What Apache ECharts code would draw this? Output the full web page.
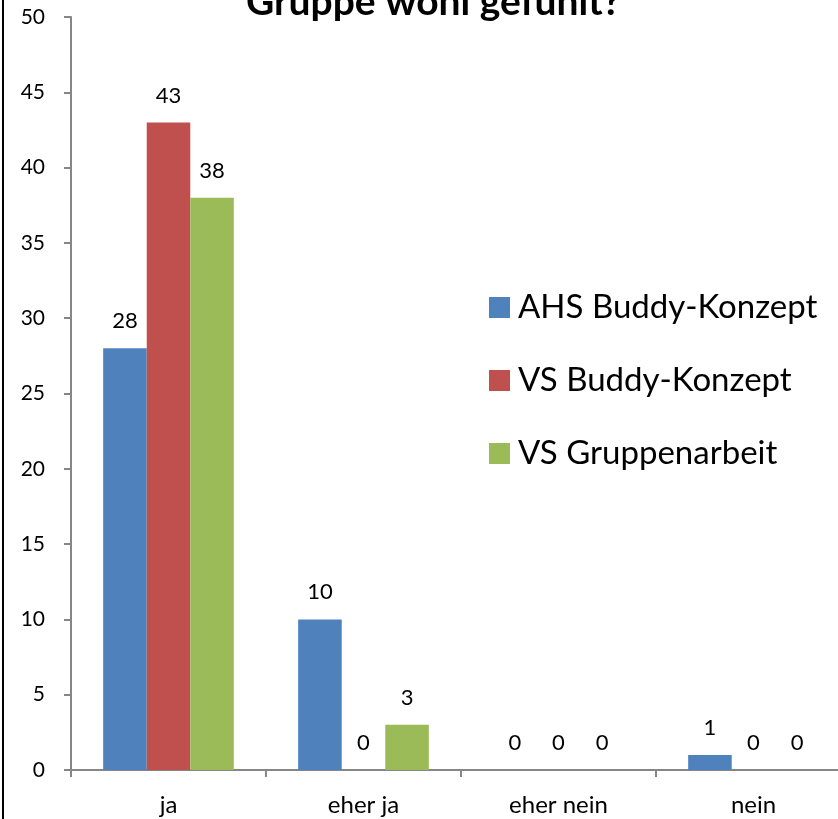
<!DOCTYPE html>
<html>
<head>
<meta charset="utf-8">
<script src="https://cdn.jsdelivr.net/npm/echarts@6/dist/echarts.min.js"></script>
<style>html,body{margin:0;padding:0;background:#fff}#c{width:838px;height:819px}</style>
</head>
<body>
<div id="c"></div>
<script>
const categories = ['ja', 'eher ja', 'eher nein', 'nein'];
const seriesNames = ['AHS Buddy-Konzept', 'VS Buddy-Konzept', 'VS Gruppenarbeit'];
const ahsBuddy = [28, 10, 0, 1];
const vsBuddy = [43, 0, 0, 0];
const vsGruppe = [38, 3, 0, 0];
const yTicks = {min: 0, max: 50, interval: 5};
const titleText = 'Gruppe wohl gefühlt?';

const colors = ['#4F81BD', '#C0504D', '#9BBB59'];
const font = 'Lato, "Open Sans", sans-serif';
const chart = echarts.init(document.getElementById('c'), null, {renderer: 'canvas'});
const mk = (name, data, i) => ({
  name, type: 'bar', data,
  barGap: '0%', barCategoryGap: '33%',
  itemStyle: {color: colors[i]},
  label: {show: true, position: 'top', distance: 16, color: '#000', fontSize: 22, fontFamily: font}
});
chart.setOption({
  animation: false,
  title: {text: titleText, left: 241, top: -22,
    textStyle: {fontSize: 39, fontWeight: 'bold', color: '#000', fontFamily: font}},
  graphic: [{type: 'line', shape: {x1: 3, y1: 0, x2: 3, y2: 819}, style: {stroke: '#000', lineWidth: 2}}],
  legend: {orient: 'vertical', left: 484, top: 286, itemGap: 40, itemWidth: 21, itemHeight: 21,
    icon: 'rect', textStyle: {fontSize: 33, color: '#000', fontFamily: font, padding: [0, 0, 0, 3]},
    itemStyle: {borderWidth: 0}},
  grid: {left: 71, top: 17, width: 780, bottom: 49, containLabel: false, outerBoundsMode: 'none'},
  xAxis: {type: 'category', data: categories,
    axisLine: {lineStyle: {color: '#868686', width: 2}},
    axisTick: {show: true, alignWithLabel: false, length: 7, lineStyle: {color: '#868686', width: 2}},
    axisLabel: {color: '#000', fontSize: 24, fontFamily: font, margin: 23}},
  yAxis: {type: 'value', min: yTicks.min, max: yTicks.max, interval: yTicks.interval,
    splitLine: {show: false},
    axisLine: {show: true, lineStyle: {color: '#868686', width: 2}},
    axisTick: {show: true, length: 7, lineStyle: {color: '#868686', width: 2}},
    axisLabel: {color: '#000', fontSize: 21, fontFamily: font, margin: 26}},
  series: [mk(seriesNames[0], ahsBuddy, 0), mk(seriesNames[1], vsBuddy, 1), mk(seriesNames[2], vsGruppe, 2)]
});
</script>
</body>
</html>
